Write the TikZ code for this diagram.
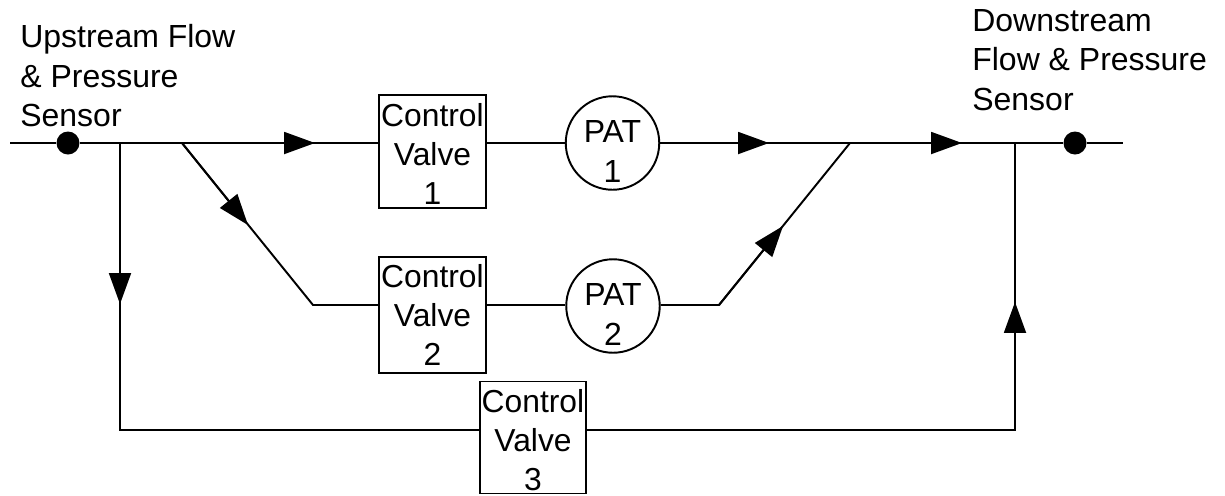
\documentclass[tikz,border=0pt]{standalone}
\usepackage{fontspec}
\setmainfont{Liberation Sans}
\usetikzlibrary{arrows.meta}
\tikzset{
    pipe/.style={line width=1.1pt},
    flow/.style={pipe, -{Triangle[length=17.6pt,width=12.5pt]}},
    label/.style={align=left, anchor=north west, inner sep=0pt, font=\fontsize{18.2}{22.5}\selectfont},
    valve/.style={draw, pipe, fill=white, minimum width=2.13cm, minimum height=2.24cm, inner sep=0pt, align=center, font=\fontsize{18.1}{22.2}\selectfont},
    pat/.style={draw, pipe, fill=white, circle, minimum size=1.87cm, inner sep=-12pt, align=center, font=\fontsize{18.2}{22.8}\selectfont},
    sensor/.style={circle, fill=black, minimum size=0.46cm, inner sep=0pt}
}
\begin{document}
\begin{tikzpicture}[x=0.02cm, y=-0.02cm]
    \useasboundingbox (0,0) rectangle (1225,495);

    % Junctions
    \coordinate (inlet) at (10,143);
    \coordinate (split1) at (120,143);
    \coordinate (split2) at (182,143);
    \coordinate (merge2) at (850,143);
    \coordinate (merge1) at (1015,143);
    \coordinate (outlet) at (1123,143);
    \coordinate (bend1) at (313,305);
    \coordinate (bend2) at (719,305);
    \coordinate (low1) at (120,430);
    \coordinate (low2) at (1015,430);

    % Arrow tips
    \coordinate (tip1) at (315,143);
    \coordinate (tip2) at (769,143);
    \coordinate (tip3) at (962,143);
    \coordinate (tip4) at (120,304);
    \coordinate (tip5) at (1015,302);
    \coordinate (tip6) at (248,225);
    \coordinate (tip7) at (783,226);

    % Valves and turbines
    \node[valve, minimum height=2.26cm] (valve1) at (432.5,151.5) {\rule{0pt}{16pt}Control\\Valve\\1};
    \node[valve, minimum height=2.32cm] (valve2) at (432.5,315) {Control\\Valve\\2};
    \node[valve] (valve3) at (533,437.5) {\rule{0pt}{16pt}Control\\Valve\\3};
    \node[pat] (pat1) at (612.5,143) {\rule{0pt}{22.7pt}PAT\\1};
    \node[pat] (pat2) at (613,306) {\rule{0pt}{22pt}PAT\\2};

    % Sensors
    \node[sensor] (sensor1) at (68,143) {};
    \node[sensor] (sensor2) at (1075,143) {};

    % Top line
    \draw[pipe] (inlet) -- (sensor1) -- (split1) -- (split2) -- (tip1) -- (tip1 -| valve1.west);
    \draw[flow] (split2) -- (tip1);
    \draw[pipe] (valve1.east |- pat1) -- (pat1);
    \draw[pipe] (pat1) -- (merge2) -- (merge1) -- (sensor2) -- (outlet);
    \draw[flow] (pat1) -- (tip2);
    \draw[flow] (merge2) -- (tip3);

    % Middle line
    \draw[pipe] (split2) -- (bend1) -- (bend1 -| valve2.west);
    \draw[flow] (split2) -- (tip6);
    \draw[pipe] (valve2.east |- bend1) -- (bend1 -| pat2.west);
    \draw[pipe] (bend1 -| pat2.east) -- (bend2) -- (merge2);
    \draw[flow] (bend2) -- (tip7);

    % Bottom line
    \draw[pipe] (split1) -- (low1) -- (valve3.west |- low1);
    \draw[flow] (split1) -- (tip4);
    \draw[pipe] (valve3.east |- low2) -- (low2) -- (merge1);
    \draw[flow] (low2) -- (tip5);

    % Sensor labels
    \node[label] (upstream) at (20,24) {Upstream Flow\\\& Pressure\\Sensor};
    \node[label] (downstream) at (972,9) {Downstream\\Flow \& Pressure\\Sensor};
\end{tikzpicture}
\end{document}
